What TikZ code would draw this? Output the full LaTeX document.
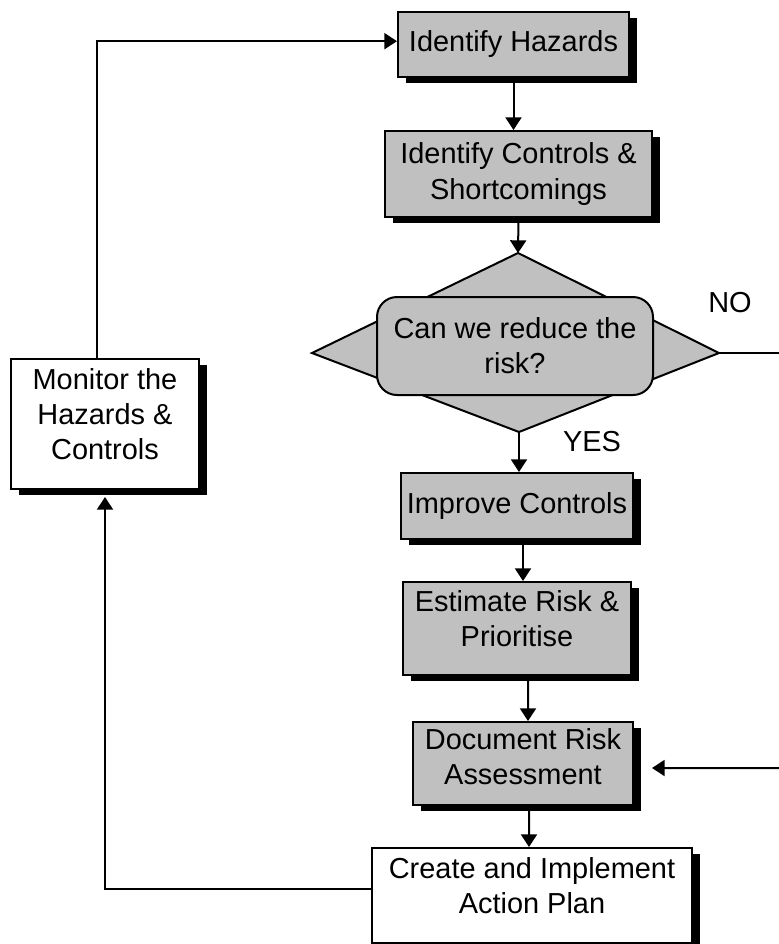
\documentclass[tikz,border=0pt]{standalone}
\usepackage{fontspec}
\setmainfont{Liberation Sans}
\usetikzlibrary{arrows.meta,shadows}
\definecolor{boxgray}{RGB}{192,192,192}
\newcommand{\bottomgap}[1]{\rule[-#1]{0pt}{#1}}

\begin{document}
\begin{tikzpicture}[x=0.3mm, y=-0.3mm, line width=0.6mm, -{Triangle[length=3.8mm,width=4.8mm]},
	stepbox/.style={draw, fill=boxgray, align=center, inner sep=0pt, font=\fontsize{24.7}{30}\selectfont,
	  drop shadow={shadow xshift=2.4mm, shadow yshift=-1.8mm, fill=black, opacity=1}},
	whitebox/.style={stepbox, fill=white},
	decision/.style={draw, fill=boxgray, rounded corners=6mm, align=center, inner sep=0pt, font=\fontsize{24.7}{30}\selectfont},
	answer/.style={font=\fontsize{24.7}{30}\selectfont}]
	\useasboundingbox (0,0) rectangle (779,944);
	\node[stepbox, minimum width=69.3mm, minimum height=19.5mm] (haz) at (513.5,44.5) {Identify Hazards};
	\node[stepbox, minimum width=80.1mm, minimum height=25.8mm] (ctrl) at (518.5,174) {Identify Controls \&\\Shortcomings};
	\coordinate (dtop) at (518,253);
	\coordinate (dright) at (719,353);
	\coordinate (dbot) at (519,432);
	\coordinate (dleft) at (312,353);
	\draw[-, fill=boxgray] (dtop) -- (dright) -- (dbot) -- (dleft) -- cycle;
	\node[decision, minimum width=82.8mm, minimum height=29.4mm] (ask) at (515,346) {Can we reduce the\\risk?};
	\node[answer] (no) at (730,303) {NO};
	\node[answer] (yes) at (592,442) {YES};
	\node[stepbox, minimum width=69.6mm, minimum height=19.8mm] (improve) at (517,506) {Improve Controls};
	\node[stepbox, minimum width=68.4mm, minimum height=27.9mm] (estimate) at (517,628.5) {Estimate Risk \&\\Prioritise\bottomgap{6mm}};
	\node[stepbox, minimum width=66mm, minimum height=24.9mm] (doc) at (523,763.5) {Document Risk\\Assessment\bottomgap{4.2mm}};
	\node[whitebox, minimum width=96mm, minimum height=28.5mm] (create) at (532,895.5) {Create and Implement\\Action Plan\bottomgap{6mm}};
	\node[whitebox, minimum width=56.4mm, minimum height=39mm] (monitor) at (105,424) {Monitor the\\Hazards \&\\Controls\bottomgap{6mm}};
	\coordinate (noend) at (779,353);
	\coordinate (backin) at (779,768);
	% main chain
	\draw (haz.south) -- (haz.south |- ctrl.north);
	\draw (ctrl.south) -- (dtop);
	\draw (dbot) -- (dbot |- improve.north);
	\draw ([xshift=1.8mm]improve.south) -- ([xshift=1.8mm]estimate.north);
	\draw ([xshift=3.3mm]estimate.south) -- ([xshift=1.5mm]doc.north);
	\draw ([xshift=1.8mm]doc.south) -- ([xshift=-0.9mm]create.north);
	% NO branch
	\draw[-] (dright) -- (noend);
	\draw (backin) -- ([xshift=5.4mm,yshift=-1.35mm]doc.east);
	% feedback loop
	\draw ([yshift=1.95mm]create.west) -| ([yshift=-2.1mm]monitor.south);
	\draw ([xshift=-2.4mm]monitor.north) |- ([yshift=1mm]haz.west);
\end{tikzpicture}
\end{document}
